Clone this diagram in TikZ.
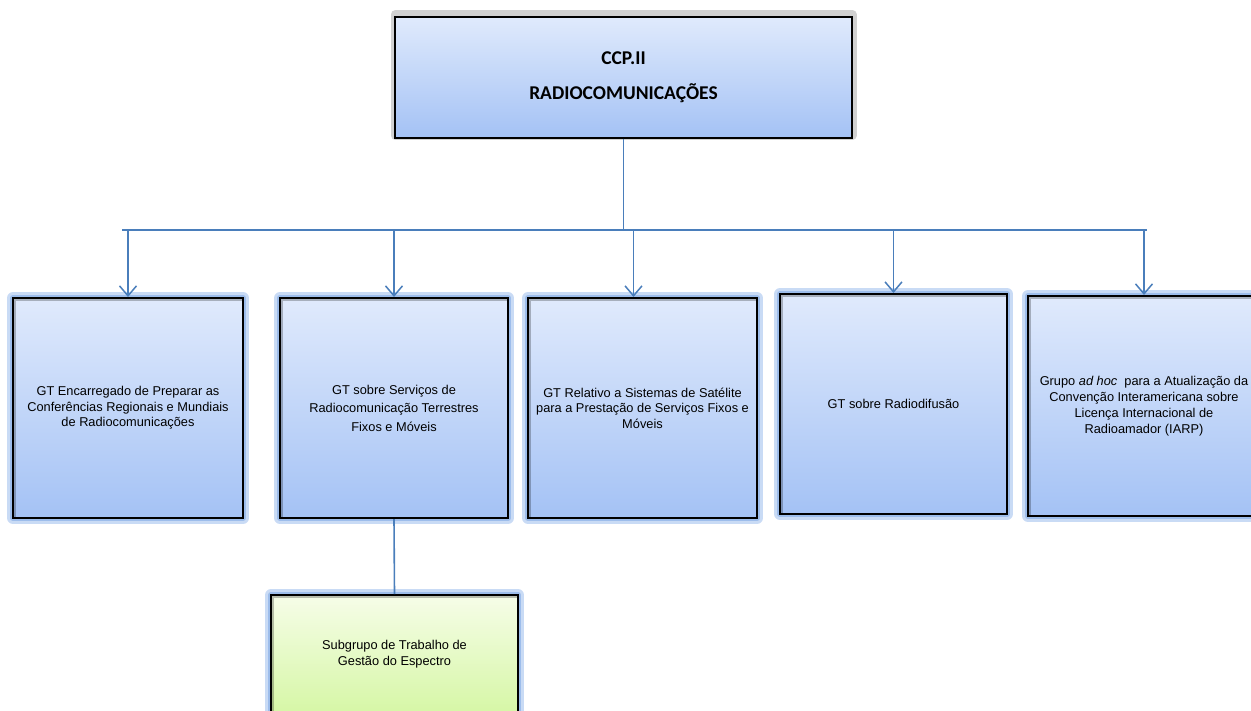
\documentclass[tikz,border=0pt]{standalone}
\usepackage{fontspec}
\setmainfont{Liberation Sans}
\newfontfamily\titlefont{Carlito}
\usetikzlibrary{arrows.meta}

\definecolor{boxtop}{HTML}{E0EAFC}
\definecolor{boxbottom}{HTML}{A4C2F5}
\definecolor{subtop}{HTML}{F6FDE8}
\definecolor{subbottom}{HTML}{D6F7A6}
\definecolor{glow}{HTML}{C9DBF5}
\definecolor{glowin}{HTML}{9DBDEB}
\definecolor{linkblue}{HTML}{4A7EBB}

\begin{document}
\begin{tikzpicture}[x=1pt,y=1pt]
  \tikzset{
    link/.style={draw=linkblue, line width=1.6pt},
    arrow link/.style={link, -{Straight Barb[length=10pt,width=17pt,line width=1.5pt]}},
    wgbox/.style={draw=black, line width=2pt, top color=boxtop, bottom color=boxbottom,
      preaction={draw=glow, line width=12pt, line join=round},
      preaction={draw=glowin, line width=6pt, line join=round},
      path picture={\draw[black, opacity=0.25, line width=5pt]
        (path picture bounding box.south west) |- (path picture bounding box.north east);},
      minimum width=230pt, minimum height=220pt,
      align=center, inner sep=2pt, font=\fontsize{12.8}{15.5}\selectfont},
    topbox/.style={draw=black, line width=2pt, top color=boxtop, bottom color=boxbottom,
      preaction={draw=black!18, line width=9pt, line join=round, transform canvas={yshift=2pt}},
      minimum width=457pt, minimum height=121pt, align=center,
      font=\titlefont\bfseries\fontsize{19.5}{21}\selectfont},
    subbox/.style={wgbox, top color=subtop, bottom color=subbottom,
      minimum width=247pt, minimum height=118pt}
  }
  \useasboundingbox (0,0) rectangle (1251,-710);

  % Committee
  \node[topbox] (ccp) at (623.5,-77) {CCP.II\\[14pt]RADIOCOMUNICAÇÕES};

  % Working groups
  \node[wgbox] (g1) at (128,-408) {GT Encarregado de Preparar as\\Conferências Regionais e Mundiais\\de Radiocomunicações};
  \node[wgbox, minimum width=228pt, font=\fontsize{12.8}{18.5}\selectfont] (g2) at (394,-408)
    {GT sobre Serviços de\\Radiocomunicação Terrestres\\Fixos e Móveis};
  \node[wgbox, minimum width=229pt] (g3) at (642.5,-408) {GT Relativo a Sistemas de Satélite\\para a Prestação de Serviços Fixos e\\Móveis};
  \node[wgbox, minimum width=227pt] (g4) at (893.5,-404) {GT sobre Radiodifusão};
  \node[wgbox, minimum width=232pt, font=\fontsize{12.8}{16}\selectfont] (g5) at (1144,-406)
    {Grupo \textit{ad hoc}~ para a Atualização da\\Convenção Interamericana sobre\\Licença Internacional de\\Radioamador (IARP)};

  % Subgroup
  \node[subbox] (sub) at (394.5,-654) {Subgrupo de Trabalho de\\Gestão do Espectro};

  % Connectors
  \coordinate (busL) at (122,-230);
  \coordinate (busR) at (1147,-230);
  \draw[link] (ccp.south) -- (ccp.south |- busL);
  \draw[link] (busL) -- (busR);
  \foreach \g in {g1,g2,g4,g5}
    \draw[arrow link] (\g.north |- busL) -- (\g.north);
  \draw[arrow link] ([xshift=-9pt]g3.north |- busL) -- ([xshift=-9pt]g3.north);
  \draw[link] (g2.south) -- (sub.north);

\end{tikzpicture}
\end{document}
